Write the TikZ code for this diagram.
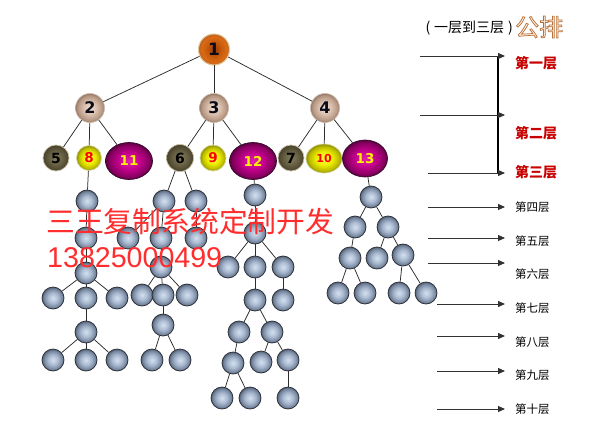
\documentclass[tikz,border=0pt]{standalone}
\usepackage{fontspec}
\setmainfont{DejaVu Sans}
\newfontfamily\cjk{Noto Sans CJK SC}
\newfontfamily\arialf{Liberation Sans}
\usetikzlibrary{arrows.meta,shapes.geometric,shadings}
\definecolor{ballline}{RGB}{40,44,52}
\definecolor{linkc}{RGB}{45,45,45}
\definecolor{wmred}{RGB}{255,45,45}
\definecolor{lvred}{RGB}{200,0,0}
\definecolor{gpfill}{RGB}{250,235,220}
% shading colours
\definecolor{bl0}{RGB}{212,224,240}\definecolor{bl1}{RGB}{172,188,210}\definecolor{bl2}{RGB}{118,134,158}\definecolor{bl3}{RGB}{82,94,114}
\definecolor{tp0}{RGB}{150,60,5}\definecolor{tp1}{RGB}{200,90,12}\definecolor{tp2}{RGB}{218,108,22}\definecolor{tp3}{RGB}{185,92,30}
\definecolor{tn0}{RGB}{242,224,212}\definecolor{tn1}{RGB}{215,188,170}\definecolor{tn2}{RGB}{182,152,132}\definecolor{tn3}{RGB}{150,122,104}
\definecolor{ol0}{RGB}{130,122,90}\definecolor{ol1}{RGB}{106,99,70}\definecolor{ol2}{RGB}{82,76,52}\definecolor{ol3}{RGB}{70,65,45}
\definecolor{ye0}{RGB}{255,255,70}\definecolor{ye1}{RGB}{236,236,0}\definecolor{ye2}{RGB}{185,185,0}\definecolor{ye3}{RGB}{140,140,0}
\definecolor{mg0}{RGB}{228,30,175}\definecolor{mg1}{RGB}{192,0,138}\definecolor{mg2}{RGB}{138,0,98}\definecolor{mg3}{RGB}{95,0,68}
\pgfdeclareradialshading{bluesh}{\pgfpoint{0bp}{0bp}}{color(0bp)=(bl0);color(11bp)=(bl1);color(21bp)=(bl2);color(25bp)=(bl3);color(50bp)=(bl3)}
\pgfdeclareradialshading{topsh}{\pgfpoint{0bp}{0bp}}{color(0bp)=(tp0);color(12bp)=(tp1);color(21bp)=(tp2);color(25bp)=(tp3);color(50bp)=(tp3)}
\pgfdeclareradialshading{tansh}{\pgfpoint{0bp}{0bp}}{color(0bp)=(tn0);color(12bp)=(tn1);color(21bp)=(tn2);color(25bp)=(tn3);color(50bp)=(tn3)}
\pgfdeclareradialshading{olivesh}{\pgfpoint{0bp}{0bp}}{color(0bp)=(ol0);color(12bp)=(ol1);color(21bp)=(ol2);color(25bp)=(ol3);color(50bp)=(ol3)}
\pgfdeclareradialshading{yellowsh}{\pgfpoint{0bp}{0bp}}{color(0bp)=(ye0);color(12bp)=(ye1);color(21bp)=(ye2);color(25bp)=(ye3);color(50bp)=(ye3)}
\pgfdeclareradialshading{magsh}{\pgfpoint{0bp}{0bp}}{color(0bp)=(mg0);color(12bp)=(mg1);color(21bp)=(mg2);color(25bp)=(mg3);color(50bp)=(mg3)}
\begin{document}
\begin{tikzpicture}[x=1pt,y=-1pt,
  bluenode/.style={circle,minimum size=22pt,inner sep=0pt,draw=ballline,line width=0.7pt,shading=bluesh},
  topnode/.style={circle,minimum size=31pt,inner sep=0pt,draw={rgb,255:red,225;green,198;blue,150},line width=1pt,shading=topsh,font=\fontsize{17}{17}\selectfont\bfseries,text={rgb,255:red,10;green,10;blue,25}},
  tannode/.style={circle,minimum size=29pt,inner sep=0pt,draw={rgb,255:red,205;green,185;blue,170},line width=0.6pt,shading=tansh,font=\fontsize{16}{16}\selectfont\bfseries,text={rgb,255:red,10;green,10;blue,25}},
  olivenode/.style={circle,minimum size=26pt,inner sep=0pt,draw={rgb,255:red,200;green,190;blue,160},line width=0.7pt,shading=olivesh,font=\fontsize{14}{14}\selectfont\bfseries,text=black},
  yellownode/.style={ellipse,minimum width=25pt,minimum height=25pt,inner sep=0pt,draw={rgb,255:red,215;green,215;blue,160},line width=0.7pt,shading=yellowsh,font=\fontsize{13.5}{13.5}\selectfont\bfseries,text=red},
  magnode/.style={ellipse,minimum width=47pt,minimum height=37pt,inner sep=0pt,draw={rgb,255:red,50;green,10;blue,40},line width=0.7pt,shading=magsh,font=\fontsize{13.5}{13.5}\selectfont\bfseries,text=yellow},
  link/.style={draw=linkc,line width=0.75pt},
  lvarrow/.style={draw={rgb,255:red,50;green,50;blue,50},line width=0.9pt,-{Triangle[length=7pt,width=6pt]}},
  lvlabel/.style={anchor=west,inner sep=0pt,font=\cjk\fontsize{11.5}{11.5}\selectfont,text=black},
  lvlabelred/.style={anchor=west,inner sep=0pt,font=\cjk\fontsize{14}{14}\selectfont\bfseries,text=lvred}
]
\useasboundingbox[fill=white] (0,0) rectangle (591,433);

% top three levels
\node[topnode] (n1) at (214,49.5) {1};
\node[tannode] (n2) at (90,108) {2};
\node[tannode] (n3) at (214,108) {3};
\node[tannode] (n4) at (325,108) {4};
\node[olivenode] (n5) at (56,158) {5};
\node[yellownode] (n8) at (89,158) {8};
\node[magnode] (n11) at (129,161) {11};
\node[olivenode,minimum size=27pt] (n6) at (180,158) {6};
\node[yellownode,minimum width=26pt,minimum height=26pt] (n9) at (213,158) {9};
\node[magnode] (n12) at (253,161) {12};
\node[olivenode] (n7) at (291,158) {7};
\node[yellownode,minimum width=36pt,minimum height=29pt,font=\fontsize{11}{11}\selectfont\bfseries] (n10) at (324,158.5) {10};
\node[magnode,minimum width=45pt] (n13) at (365,158.5) {13};

% tree A
\node[bluenode] (a1) at (87,201) {};
\node[bluenode] (a2) at (86,238) {};
\node[bluenode] (a3) at (86,273) {};
\node[bluenode] (a4) at (53,298) {};
\node[bluenode] (a5) at (86,298) {};
\node[bluenode] (a6) at (117,298) {};
\node[bluenode] (a7) at (86,332) {};
\node[bluenode] (a8) at (53,360) {};
\node[bluenode] (a9) at (86,360) {};
\node[bluenode] (a10) at (117,360) {};
% tree B
\node[bluenode] (b1) at (164,201) {};
\node[bluenode] (b2) at (196,201) {};
\node[bluenode] (b3) at (128,238) {};
\node[bluenode] (b4) at (161,238) {};
\node[bluenode] (b5) at (196,238) {};
\node[bluenode] (b6) at (161,267) {};
\node[bluenode] (b7) at (142,295) {};
\node[bluenode] (b8) at (163,295) {};
\node[bluenode] (b9) at (187,295) {};
\node[bluenode] (b10) at (163,325) {};
\node[bluenode] (b11) at (152,360) {};
\node[bluenode] (b12) at (180,360) {};
% tree C
\node[bluenode] (c1) at (255,195) {};
\node[bluenode] (c2) at (255,233) {};
\node[bluenode] (c3) at (228,267) {};
\node[bluenode] (c4) at (255,267) {};
\node[bluenode] (c5) at (283,267) {};
\node[bluenode] (c6) at (255,300) {};
\node[bluenode] (c7) at (283,300) {};
\node[bluenode] (c8) at (239,332) {};
\node[bluenode] (c9) at (272,332) {};
\node[bluenode] (c10) at (233,363) {};
\node[bluenode] (c11) at (261,362) {};
\node[bluenode] (c12) at (288,360) {};
\node[bluenode] (c13) at (222,398) {};
\node[bluenode] (c14) at (250,398) {};
\node[bluenode] (c15) at (288,398) {};
% tree D
\node[bluenode] (d1) at (371,197) {};
\node[bluenode] (d2) at (355,227) {};
\node[bluenode] (d3) at (388,227) {};
\node[bluenode] (d4) at (350,258) {};
\node[bluenode] (d5) at (377,258) {};
\node[bluenode] (d6) at (403,255) {};
\node[bluenode] (d7) at (338,293) {};
\node[bluenode] (d8) at (365,293) {};
\node[bluenode] (d9) at (399,293) {};
\node[bluenode] (d10) at (426,293) {};

% connectors
\foreach \p/\c in {n1/n2,n1/n3,n1/n4,n2/n5,n2/n8,n2/n11,n3/n6,n3/n9,n3/n12,n4/n7,n4/n10,n4/n13,
  n8/a1,a1/a2,a2/a3,a3/a4,a3/a5,a3/a6,a5/a7,a7/a8,a7/a9,a7/a10,
  n6/b1,n6/b2,b1/b3,b1/b4,b2/b5,b4/b6,b6/b7,b6/b8,b6/b9,b8/b10,b10/b11,b10/b12,
  n12/c1,c1/c2,c2/c3,c2/c4,c2/c5,c4/c6,c5/c7,c6/c8,c6/c9,c8/c10,c9/c11,c9/c12,c10/c13,c10/c14,c12/c15,
  n13/d1,d1/d2,d1/d3,d2/d4,d3/d5,d3/d6,d4/d7,d4/d8,d6/d9,d6/d10}
  \draw[link] (\p) -- (\c);

% watermark
\node[anchor=west,inner sep=0pt,text=wmred,font=\cjk\fontsize{28.8}{28.8}\selectfont] (wm1) at (46,222) {三王复制系统定制开发};
\node[anchor=west,inner sep=0pt,text=wmred,font=\arialf\fontsize{28.6}{28.6}\selectfont] (wm2) at (47,257.5) {13825000499};

% level arrows
\coordinate (s1) at (420,56);  \coordinate (e1) at (505,56);
\coordinate (s2) at (420,115); \coordinate (e2) at (505,115);
\coordinate (s3) at (428,173); \coordinate (e3) at (505,173);
\coordinate (s4) at (428,207); \coordinate (e4) at (505,207);
\coordinate (s5) at (428,238); \coordinate (e5) at (505,238);
\coordinate (s6) at (428,263); \coordinate (e6) at (505,263);
\coordinate (s7) at (437,304); \coordinate (e7) at (505,304);
\coordinate (s8) at (437,336); \coordinate (e8) at (505,336);
\coordinate (s9) at (437,371); \coordinate (e9) at (505,371);
\coordinate (s10) at (437,409); \coordinate (e10) at (505,409);
\coordinate (vt) at (498,56); \coordinate (vb) at (498,173);
\draw[line width=1.3pt,black] (vt) -- (vb);
\foreach \i in {1,...,10} \draw[lvarrow] (s\i) -- (e\i);

\node[lvlabelred] (l1) at (515,63) {第一层};
\node[lvlabelred] (l2) at (515,133) {第二层};
\node[lvlabelred] (l3) at (515,172) {第三层};
\node[lvlabel] (l4) at (515,207) {第四层};
\node[lvlabel] (l5) at (515,241) {第五层};
\node[lvlabel] (l6) at (515,274) {第六层};
\node[lvlabel] (l7) at (515,308) {第七层};
\node[lvlabel] (l8) at (515,342) {第八层};
\node[lvlabel] (l9) at (515,375) {第九层};
\node[lvlabel] (l10) at (515,409) {第十层};

% title
\node[anchor=east,inner sep=0pt,font=\cjk\fontsize{14}{14}\selectfont] (t1) at (513,28) {(\;一层到三层\;)};
\node[anchor=west,inner sep=0pt,font=\cjk\fontsize{24}{24}\selectfont] (t2) at (515,27) {\color{gpfill}\special{pdf:literal direct 0.72 0.44 0.22 RG 0.7 w 2 Tr}公排\special{pdf:literal direct 0 Tr}};
\end{tikzpicture}
\end{document}
